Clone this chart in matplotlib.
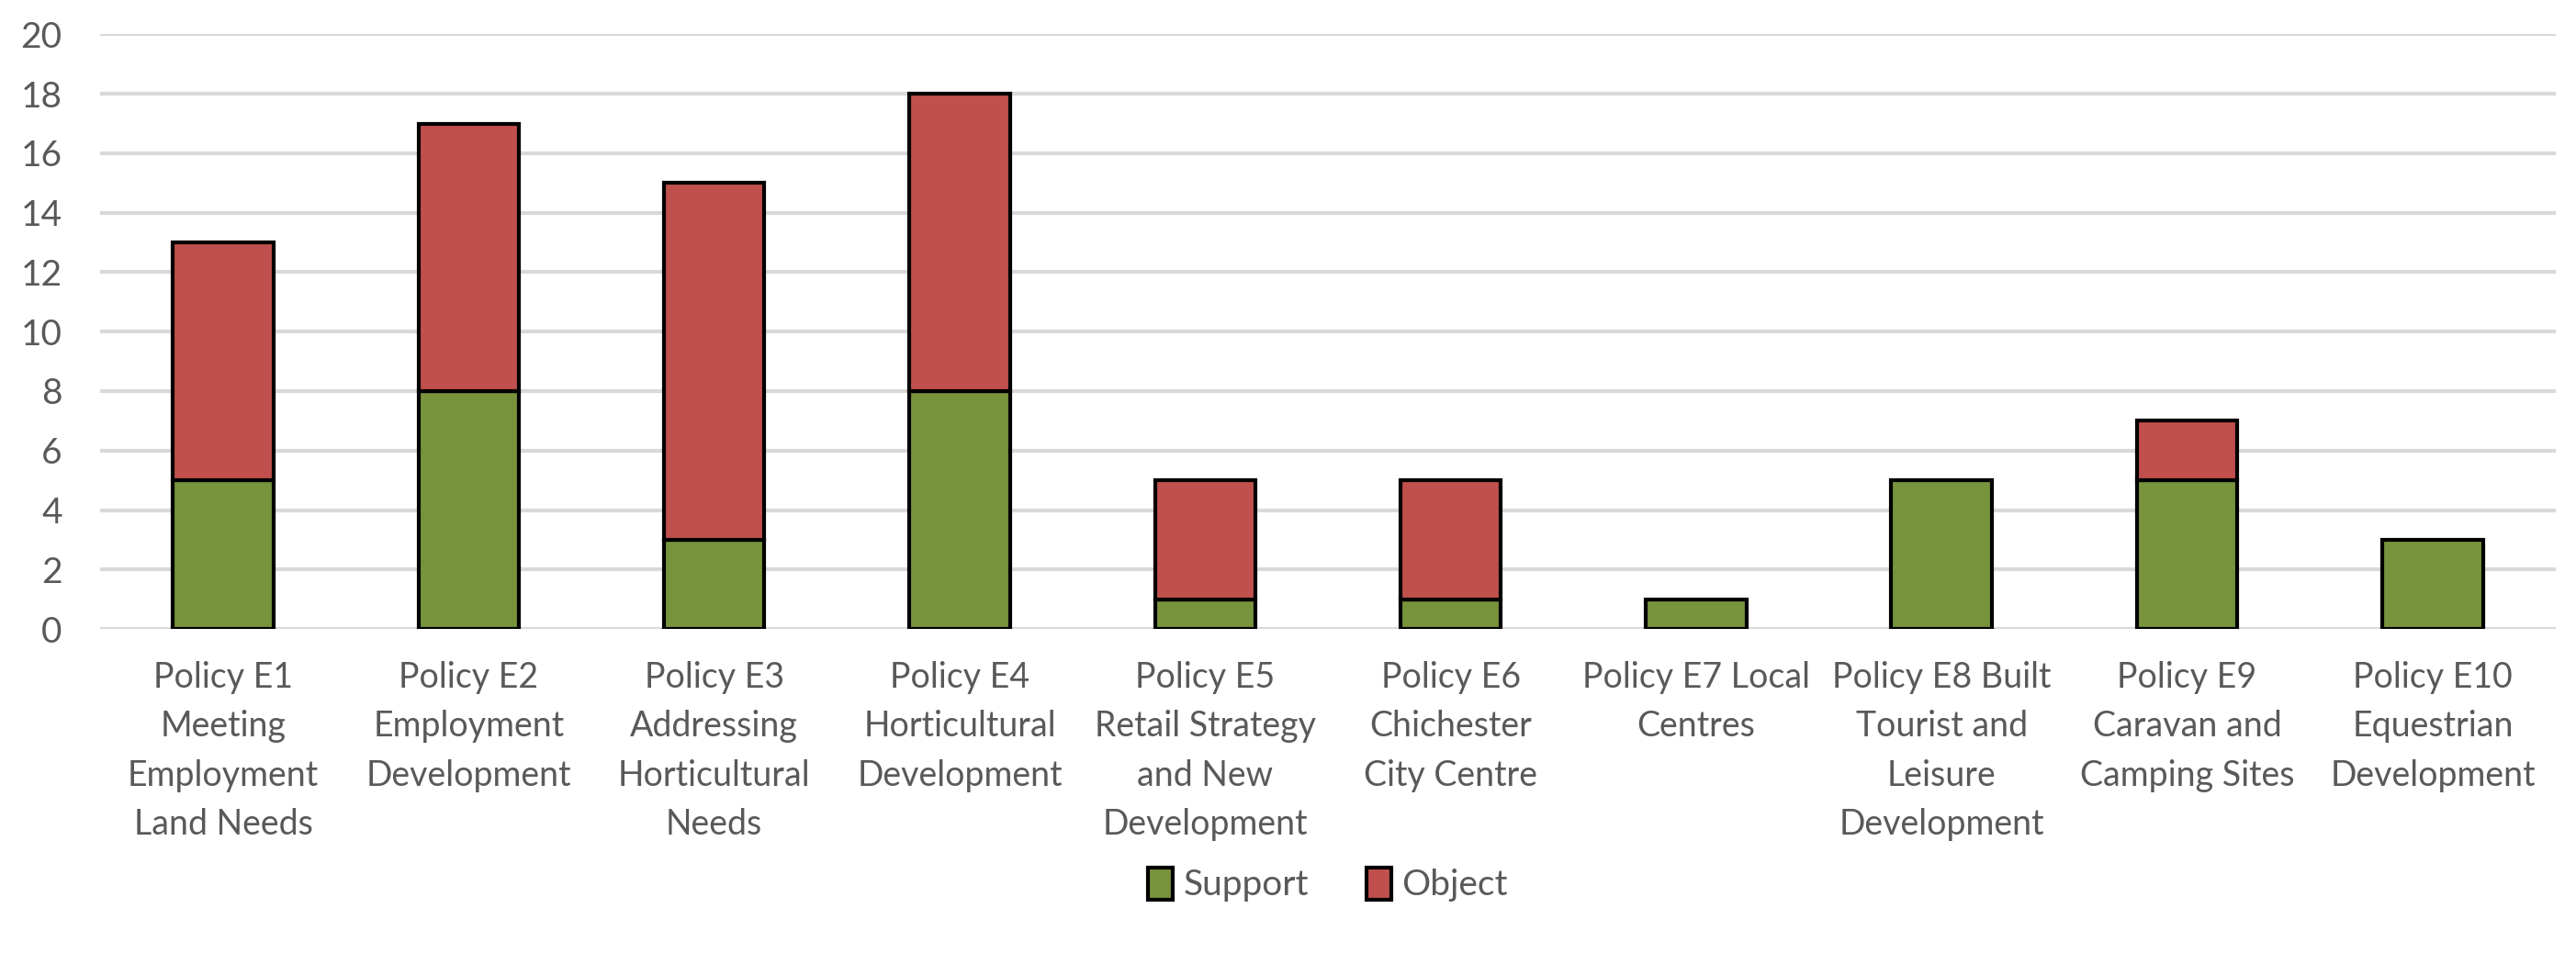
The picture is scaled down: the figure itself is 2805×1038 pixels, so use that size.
import numpy as np
import matplotlib.pyplot as plt

# policies and counts
policies = [
	"Policy E1\nMeeting\nEmployment\nLand Needs",
	"Policy E2\nEmployment\nDevelopment",
	"Policy E3\nAddressing\nHorticultural\nNeeds",
	"Policy E4\nHorticultural\nDevelopment",
	"Policy E5\nRetail Strategy\nand New\nDevelopment",
	"Policy E6\nChichester\nCity Centre",
	"Policy E7 Local\nCentres",
	"Policy E8 Built\nTourist and\nLeisure\nDevelopment",
	"Policy E9\nCaravan and\nCamping Sites",
	"Policy E10\nEquestrian\nDevelopment",
]
support = [5, 8, 3, 8, 1, 1, 1, 5, 5, 3]
objects = [8, 9, 12, 10, 4, 4, 0, 0, 2, 0]
yticks = [0, 2, 4, 6, 8, 10, 12, 14, 16, 18, 20]

green = "#77933C"
red   = "#C0504D"
grey  = "#595959"

plt.rcParams["font.family"] = ["Lato", "DejaVu Sans"]

fig = plt.figure(figsize=(28.05, 10.38), dpi=100)
ax = fig.add_axes([0.039, 0.34, 0.953, 0.624])

x = np.arange(len(policies))
w = 0.41
ax.bar(x, support, w, color=green, edgecolor="black", lw=3, label="Support", zorder=3)
obj = np.ma.masked_equal(objects, 0)
ax.bar(x, obj, w, bottom=support, color=red, edgecolor="black", lw=3, label="Object", zorder=3)

ax.set_xlim(-0.5, len(policies) - 0.5)
ax.set_ylim(0, 20)
ax.set_yticks(yticks)
ax.set_xticks(x)
ax.set_xticklabels(policies, fontsize=27, color=grey, linespacing=1.6, va="top")
ax.tick_params(axis="y", labelsize=28, labelcolor=grey, length=0, pad=30)
ax.tick_params(axis="x", length=0, pad=25)
ax.yaxis.grid(True, color="#D9D9D9", lw=3, zorder=0)
ax.set_axisbelow(True)
for s in ax.spines.values():
	s.set_visible(False)

ax.legend(loc="center", bbox_to_anchor=(0.5, -0.43), ncol=2, frameon=False,
	fontsize=28, labelcolor=grey, handlelength=0.7, handleheight=1.0,
	handletextpad=0.3, columnspacing=1.6)

fig.savefig("out.png", dpi=100)
